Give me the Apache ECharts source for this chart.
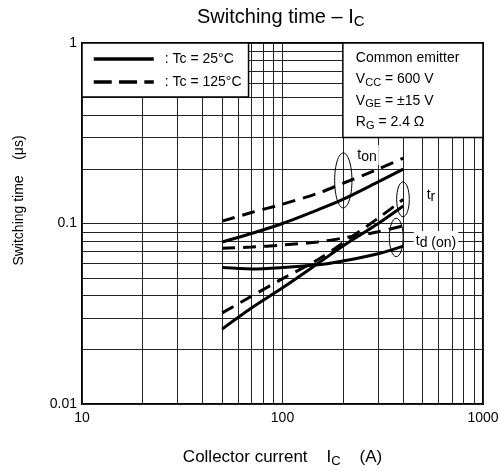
<!DOCTYPE html>
<html><head><meta charset="utf-8">
<script src="https://cdn.jsdelivr.net/npm/echarts@6/dist/echarts.min.js"></script>
<style>html,body{margin:0;padding:0;background:#fff}#c{width:500px;height:471px}</style>
</head><body><div id="c"></div>
<script>
// ---- data (collector current in A, times in µs) ----
const current = [50, 70, 100, 150, 200, 300, 400];
const ton25   = [0.079, 0.088, 0.100, 0.119, 0.136, 0.170, 0.200];
const ton125  = [0.103, 0.115, 0.128, 0.147, 0.167, 0.200, 0.230];
const tr25    = [0.026, 0.034, 0.044, 0.060, 0.075, 0.100, 0.125];
const tr125   = [0.032, 0.0395, 0.0495, 0.063, 0.078, 0.107, 0.136];
const tdon25  = [0.057, 0.056, 0.057, 0.059, 0.062, 0.068, 0.075];
const tdon125 = [0.073, 0.074, 0.076, 0.079, 0.083, 0.090, 0.097];
const xMinorGrid = [20, 30, 40, 50, 60, 70, 80, 90, 200, 300, 400, 500, 600, 700, 800, 900];
const yMinorGrid = [0.02, 0.03, 0.04, 0.05, 0.06, 0.07, 0.08, 0.09, 0.2, 0.3, 0.4, 0.5, 0.6, 0.7, 0.8, 0.9];
const legendNames = ['Tc = 25°C', 'Tc = 125°C'];
const conditions = ['Common emitter', 'V{s|CC} = 600 V', 'V{s|GE} = ±15 V', 'R{s|G} = 2.4 Ω'];

// annotation placement in data units
const condBox = [200, 1000, 0.3, 1];
const ellipseBoxes = [[182, 222, 0.122, 0.246], [371, 429, 0.109, 0.170], [341, 400, 0.0655, 0.107]];
const curveLabels = [
  {text: 't{s|on}', at: [264, 0.2396]},
  {text: 't{s|r}', at: [550, 0.144]},
  {text: 't{s|d (on)}', at: [583, 0.080]}
];

const FONT = "'Liberation Sans', Arial, Helvetica, sans-serif";
const pairs = ys => current.map((x, i) => [x, ys[i]]);
const solid = {type: 'solid', width: 3, color: '#000'};
const dashed = {type: [13, 8], width: 3, color: '#000'};
const mk = (name, ys, ls) => ({name, type: 'line', data: pairs(ys), smooth: 0.3, symbol: 'none',
  showSymbol: false, lineStyle: ls, itemStyle: {color: '#000'}, z: 3, animation: false, silent: true});

const chart = echarts.init(document.getElementById('c'), null, {renderer: 'canvas'});
const axisCommon = {
  type: 'log', logBase: 10,
  axisLine: {show: false}, axisTick: {show: false},
  splitLine: {show: true, lineStyle: {color: '#222', width: 1}},
};
chart.setOption({
  animation: false,
  backgroundColor: '#fff',
  title: {
    text: 'Switching time – I{sub|C}', left: 197, top: 7, padding: 0,
    textStyle: {fontFamily: FONT, fontSize: 20, fontWeight: 'normal', color: '#000',
      rich: {sub: {fontFamily: FONT, fontSize: 15, color: '#000', padding: [10, 0, 0, 0], lineHeight: 16}}}
  },
  grid: {left: 82, right: 17, top: 43, bottom: 67, show: true, borderColor: '#000', borderWidth: 2,
    backgroundColor: 'transparent', containLabel: false, outerBoundsMode: 'none'},
  legend: {
    data: [{name: legendNames[0], lineStyle: {type: 'solid', width: 3.5}},
           {name: legendNames[1], lineStyle: {type: [18, 7.3], width: 3.5}}],
    left: 82, top: 43, orient: 'vertical', backgroundColor: '#fff', borderColor: '#000', borderWidth: 1.5,
    borderRadius: 0, padding: [9, 7, 8, 10], itemWidth: 60, itemHeight: 14, itemGap: 9,
    itemStyle: {opacity: 0, borderWidth: 0},
    formatter: ': {name}', selectedMode: false, z: 20,
    textStyle: {fontFamily: FONT, fontSize: 14, color: '#000', padding: [0, 0, 0, 6], lineHeight: 14}
  },
  xAxis: Object.assign({}, axisCommon, {
    min: 10, max: 1000,
    axisLabel: {fontFamily: FONT, fontSize: 14, color: '#000', margin: 7, formatter: v => String(+(+v).toPrecision(3))},
    name: 'Collector current    I{sub|C}    (A)', nameLocation: 'middle', nameGap: 45,
    nameTextStyle: {fontFamily: FONT, fontSize: 17, color: '#000',
      rich: {sub: {fontFamily: FONT, fontSize: 13, color: '#000', padding: [8, 0, 0, 0], lineHeight: 14}}}
  }),
  yAxis: Object.assign({}, axisCommon, {
    min: 0.01, max: 1,
    axisLabel: {fontFamily: FONT, fontSize: 14, color: '#000', margin: 5, formatter: v => String(+(+v).toPrecision(3))},
    name: 'Switching time    (μs)', nameLocation: 'middle', nameGap: 56,
    nameTextStyle: {fontFamily: FONT, fontSize: 14, color: '#000', padding: [0, 0, 0, 46]}
  }),
  series: [
    mk(legendNames[0], ton25, solid),
    mk(legendNames[1], ton125, dashed),
    mk(legendNames[0], tr25, solid),
    mk(legendNames[1], tr125, dashed),
    mk(legendNames[0], tdon25, solid),
    mk(legendNames[1], tdon125, dashed),
    {name: 'minor-grid', type: 'line', data: [], z: 1, silent: true, animation: false,
      markLine: {silent: true, z: 1, symbol: ['none', 'none'], label: {show: false}, animation: false,
        lineStyle: {color: '#222', width: 1, type: 'solid'},
        data: xMinorGrid.map(v => ({xAxis: v})).concat(yMinorGrid.map(v => ({yAxis: v})))}}
  ]
});

const P = (x, y) => chart.convertToPixel({xAxisIndex: 0, yAxisIndex: 0}, [x, y]);
const graphics = [];
// condition box
{
  const a = P(condBox[0], condBox[3]), b = P(condBox[1], condBox[2]);
  graphics.push({type: 'rect', z: 100, shape: {x: a[0], y: a[1], width: b[0] - a[0], height: b[1] - a[1]},
    style: {fill: '#fff', stroke: '#000', lineWidth: 1.5}});
  graphics.push({type: 'text', z: 101, x: a[0] + 13, y: a[1] + 4,
    style: {text: conditions.join('\n'), fill: '#000', fontFamily: FONT, fontSize: 14, lineHeight: 21.5,
      align: 'left', verticalAlign: 'top',
      rich: {s: {fontFamily: FONT, fontSize: 11, fill: '#000', padding: [7, 0, 0, 0], lineHeight: 13}}}});
}
ellipseBoxes.forEach(e => {
  const a = P(e[0], e[3]), b = P(e[1], e[2]);
  graphics.push({type: 'ellipse', z: 102,
    shape: {cx: (a[0] + b[0]) / 2, cy: (a[1] + b[1]) / 2, rx: (b[0] - a[0]) / 2, ry: (b[1] - a[1]) / 2},
    style: {fill: 'none', stroke: '#000', lineWidth: 1}});
});
curveLabels.forEach(l => {
  const p = P(l.at[0], l.at[1]);
  graphics.push({type: 'text', z: 103, x: p[0], y: p[1],
    style: {text: l.text, fill: '#000', fontFamily: FONT, fontSize: 14, align: 'center', verticalAlign: 'middle',
      backgroundColor: '#fff', padding: [1, 2, 1, 2],
      rich: {s: {fontFamily: FONT, fontSize: 14, fill: '#000', padding: [4, 0, 0, 0]}}}});
});
chart.setOption({graphic: graphics});
</script>
</body></html>
